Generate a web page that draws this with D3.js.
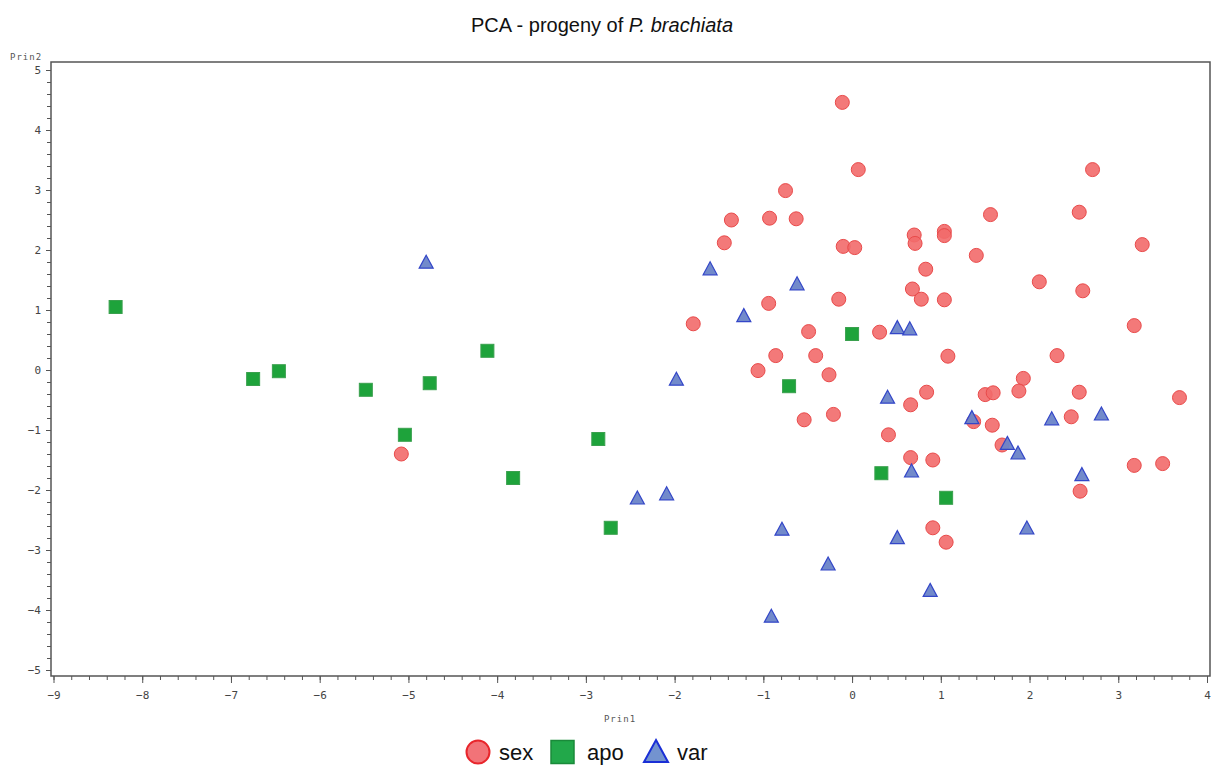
<!DOCTYPE html>
<html>
<head>
<meta charset="utf-8">
<script src="https://cdn.jsdelivr.net/npm/d3@7"></script>
<style>
  body { margin: 0; background: #fff; }
  .tick text { font-family: "DejaVu Sans Mono", monospace; font-size: 11px; fill: #444; }
  .lbl { font-family: "DejaVu Sans Mono", monospace; font-size: 9px; fill: #555; letter-spacing: 1px; }
</style>
</head>
<body>
<svg id="chart" width="1224" height="769"></svg>
<script>
// groups
var groups = ["sex", "apo", "var"];

// sex (red circles)
var sexX = [-0.11, 0.07, -0.75, -1.36, -0.93, -0.63, -1.44, -0.10, 0.03, 0.70, 0.71, 0.83, 0.68, 0.78, -0.15, -0.94, -1.79, -0.49, 0.31, -0.86, -0.41, -1.06, -0.26, -0.54, -0.21, 0.41, 0.66, 0.84, 0.66, 0.91, 0.91, 1.06, 2.71, 2.56, 1.56, 1.04, 1.04, 3.27, 1.40, 2.11, 2.60, 1.04, 3.18, 1.08, 2.31, 1.93, 1.50, 1.59, 1.88, 2.56, 3.69, 1.37, 1.58, 2.47, 1.69, 3.18, 3.50, 2.57, -5.08];
var sexY = [4.46, 3.34, 2.99, 2.50, 2.53, 2.52, 2.12, 2.06, 2.04, 2.25, 2.11, 1.68, 1.35, 1.18, 1.18, 1.11, 0.77, 0.64, 0.63, 0.24, 0.24, -0.01, -0.08, -0.83, -0.74, -1.08, -0.58, -0.37, -1.46, -1.50, -2.63, -2.87, 3.34, 2.63, 2.59, 2.31, 2.24, 2.09, 1.91, 1.47, 1.32, 1.17, 0.74, 0.23, 0.24, -0.14, -0.41, -0.38, -0.35, -0.37, -0.46, -0.86, -0.92, -0.78, -1.25, -1.59, -1.56, -2.02, -1.40];

// apo (green squares)
var apoX = [-8.30, -6.75, -6.46, -5.48, -5.04, -4.76, -4.11, -3.82, -2.86, -2.72, -0.71, 0.00, 0.33, 1.06];
var apoY = [1.05, -0.15, -0.02, -0.33, -1.08, -0.22, 0.32, -1.80, -1.15, -2.63, -0.27, 0.60, -1.72, -2.13];

// var (blue triangles)
var varX = [-4.80, -1.98, -1.60, -0.62, -1.22, 0.51, 0.65, -2.42, -2.09, -0.79, -0.27, -0.91, 0.40, 0.67, 0.51, 0.88, 1.35, 2.25, 2.81, 1.75, 1.87, 2.59, 1.97];
var varY = [1.78, -0.17, 1.67, 1.42, 0.89, 0.69, 0.67, -2.15, -2.08, -2.67, -3.25, -4.12, -0.47, -1.70, -2.81, -3.69, -0.81, -0.83, -0.75, -1.24, -1.40, -1.76, -2.65];

var xTicks = [-9, -8, -7, -6, -5, -4, -3, -2, -1, 0, 1, 2, 3, 4];
var yTicks = [-5, -4, -3, -2, -1, 0, 1, 2, 3, 4, 5];

var svg = d3.select("#chart");

var x = d3.scaleLinear().domain([-9, 4]).range([53.5, 1207]);
var y = d3.scaleLinear().domain([-5, 5]).range([670, 70]);

var fLeft = 51, fRight = 1210, fTop = 62, fBottom = 676;

// title
var title = svg.append("text")
  .attr("x", 602).attr("y", 32)
  .attr("text-anchor", "middle")
  .style("font-family", "Liberation Sans, Arial, sans-serif")
  .style("font-size", "20px")
  .style("fill", "#111");
title.append("tspan").text("PCA - progeny of ");
title.append("tspan").style("font-style", "italic").text("P. brachiata");

// frame
svg.append("rect")
  .attr("x", fLeft).attr("y", fTop)
  .attr("width", fRight - fLeft).attr("height", fBottom - fTop)
  .attr("fill", "none").attr("stroke", "#555").attr("stroke-width", 1.5);

// minor ticks
var minorX = d3.range(-9, 4.001, 0.2);
var minorY = d3.range(-5, 5.001, 0.2);

svg.append("g")
  .attr("transform", "translate(0," + fBottom + ")")
  .call(d3.axisBottom(x).tickValues(minorX).tickSize(4).tickFormat(""))
  .call(function(g){ g.select(".domain").remove(); g.selectAll("line").attr("stroke", "#555"); });

svg.append("g")
  .attr("transform", "translate(" + fLeft + ",0)")
  .call(d3.axisLeft(y).tickValues(minorY).tickSize(4).tickFormat(""))
  .call(function(g){ g.select(".domain").remove(); g.selectAll("line").attr("stroke", "#555"); });

// major ticks
svg.append("g")
  .attr("transform", "translate(0," + fBottom + ")")
  .call(d3.axisBottom(x).tickValues(xTicks).tickSize(7).tickPadding(8).tickFormat(d3.format("d")))
  .call(function(g){ g.select(".domain").remove(); g.selectAll("line").attr("stroke", "#555"); });

svg.append("g")
  .attr("transform", "translate(" + fLeft + ",0)")
  .call(d3.axisLeft(y).tickValues(yTicks).tickSize(5).tickPadding(5).tickFormat(d3.format("d")))
  .call(function(g){ g.select(".domain").remove(); g.selectAll("line").attr("stroke", "#555"); });

// axis labels
svg.append("text").attr("class", "lbl").attr("x", 10).attr("y", 60).text("Prin2");
svg.append("text").attr("class", "lbl").attr("x", 620).attr("y", 722).attr("text-anchor", "middle").text("Prin1");

// markers
var triPath = "M0,-8L7,5L-7,5Z";

svg.append("g").selectAll("circle")
  .data(sexX.map(function(d, i){ return [d, sexY[i]]; }))
  .enter().append("circle")
  .attr("cx", function(d){ return x(d[0]); })
  .attr("cy", function(d){ return y(d[1]); })
  .attr("r", 7)
  .attr("fill", "#f26a6a").attr("fill-opacity", 0.9)
  .attr("stroke", "#e94a4a").attr("stroke-width", 1);

svg.append("g").selectAll("rect")
  .data(apoX.map(function(d, i){ return [d, apoY[i]]; }))
  .enter().append("rect")
  .attr("x", function(d){ return x(d[0]) - 6.5; })
  .attr("y", function(d){ return y(d[1]) - 6.5; })
  .attr("width", 13).attr("height", 13)
  .attr("fill", "#1ea33b")
  .attr("stroke", "#3aa04e").attr("stroke-width", 1);

svg.append("g").selectAll("path")
  .data(varX.map(function(d, i){ return [d, varY[i]]; }))
  .enter().append("path")
  .attr("d", triPath)
  .attr("transform", function(d){ return "translate(" + x(d[0]) + "," + y(d[1]) + ")"; })
  .attr("fill", "#6a84c8").attr("fill-opacity", 0.95)
  .attr("stroke", "#3346c8").attr("stroke-width", 1.2);

// legend
var leg = svg.append("g").attr("transform", "translate(0,752)");
var legFont = { "font-family": "Liberation Sans, Arial, sans-serif", "font-size": "22px", "fill": "#111" };

leg.append("circle").attr("cx", 478).attr("cy", 0).attr("r", 11.5)
  .attr("fill", "#f27378").attr("stroke", "#e8262c").attr("stroke-width", 2);
leg.append("rect").attr("x", 551).attr("y", -11.5).attr("width", 23).attr("height", 23)
  .attr("fill", "#22a84a").attr("stroke", "#1a8a3a").attr("stroke-width", 1.5);
leg.append("path").attr("d", "M0,-12L12,10L-12,10Z").attr("transform", "translate(656,0)")
  .attr("fill", "#7393cf").attr("stroke", "#1a2fd6").attr("stroke-width", 2);

var legText = [[groups[0], 499], [groups[1], 587], [groups[2], 677]];
legText.forEach(function(t){
  var el = leg.append("text").attr("x", t[1]).attr("y", 8).text(t[0]);
  for (var k in legFont) el.style(k, legFont[k]);
});
</script>
</body>
</html>
